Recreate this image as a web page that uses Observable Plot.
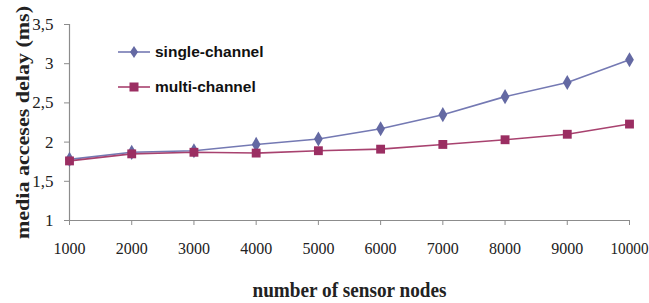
<!DOCTYPE html>
<html>
<head>
<meta charset="utf-8">
<script src="https://cdn.jsdelivr.net/npm/d3@7"></script>
<script src="https://cdn.jsdelivr.net/npm/@observablehq/plot@0.6"></script>
<style>
  html, body { margin: 0; padding: 0; background: #fff; }
  #wrap { position: relative; width: 649px; height: 303px; }
  .legend { position: absolute; left: 118px; height: 14px; font: bold 15.5px "Liberation Sans", Arial, sans-serif; color: #111; display: flex; align-items: center; white-space: nowrap; }
  .legend svg { margin-right: 5px; }
</style>
</head>
<body>
<div id="wrap"></div>
<script>
const nodes = [1000, 2000, 3000, 4000, 5000, 6000, 7000, 8000, 9000, 10000];
const singleChannel = [1.78, 1.87, 1.89, 1.97, 2.04, 2.17, 2.35, 2.58, 2.76, 3.05];
const multiChannel  = [1.76, 1.85, 1.87, 1.86, 1.89, 1.91, 1.97, 2.03, 2.10, 2.23];
const yTicks = [1, 1.5, 2, 2.5, 3, 3.5];
const seriesNames = ["single-channel", "multi-channel"];
const seriesColors = ["#6469a3", "#9b2e62"];
const lineColors = ["#7479b3", "#a8426f"];
const yTitle = "media acceses delay (ms)";
const xTitle = "number of sensor nodes";

const single = nodes.map((n, i) => ({n, v: singleChannel[i]}));
const multi = nodes.map((n, i) => ({n, v: multiChannel[i]}));

const serif = "'Liberation Serif', 'Times New Roman', serif";

const chart = Plot.plot({
  width: 649,
  height: 303,
  marginLeft: 69,
  marginRight: 20,
  marginTop: 24,
  marginBottom: 83,
  style: {fontFamily: serif, color: "#222", background: "white"},
  x: {domain: [nodes[0], nodes[nodes.length - 1]]},
  y: {domain: [yTicks[0], yTicks[yTicks.length - 1]]},
  marks: [
    Plot.ruleX([nodes[0]], {stroke: "#8c8c8c", strokeWidth: 1.2}),
    Plot.ruleY([yTicks[0]], {stroke: "#8c8c8c", strokeWidth: 1.2}),
    Plot.axisY({ticks: yTicks, tickSize: 5, tickPadding: 11, stroke: "#8c8c8c",
      tickFormat: d => String(d).replace(".", ","), fontSize: 17, label: null}),
    Plot.axisY({ticks: [], label: yTitle, labelAnchor: "center",
      labelArrow: "none", labelOffset: 54, fontSize: 19, fontWeight: "bold"}),
    Plot.axisX({ticks: nodes, tickSize: 5, tickPadding: 17, stroke: "#8c8c8c",
      tickFormat: d => String(d), fontSize: 16, label: null}),
    Plot.axisX({ticks: [], label: xTitle, labelAnchor: "center",
      labelArrow: "none", labelOffset: 76, fontSize: 20, fontWeight: "bold"}),
    Plot.line(single, {x: "n", y: "v", stroke: lineColors[0], strokeWidth: 1.6}),
    Plot.line(multi, {x: "n", y: "v", stroke: lineColors[1], strokeWidth: 1.6}),
    Plot.dot(single, {x: "n", y: "v", symbol: "diamond", r: 4.6, fill: seriesColors[0], stroke: "none"}),
    Plot.dot(multi, {x: "n", y: "v", symbol: "square", r: 5, fill: seriesColors[1], stroke: "none"})
  ]
});

// stretch the titles to the reference's text lengths
d3.select(chart).selectAll("text").each(function() {
  const t = this.textContent;
  if (t === yTitle) { this.setAttribute("textLength", 233); this.setAttribute("lengthAdjust", "spacingAndGlyphs"); }
  if (t === xTitle) { this.setAttribute("textLength", 194); this.setAttribute("lengthAdjust", "spacingAndGlyphs"); }
  if (t === String(nodes[nodes.length - 1])) { this.setAttribute("textLength", 38); this.setAttribute("lengthAdjust", "spacingAndGlyphs"); }
});

const wrap = document.getElementById("wrap");
wrap.appendChild(chart);

const legendTops = [45, 80];
const symbols = [
  '<path d="M16,1 L20,7 L16,13 L12,7 Z"/>',
  '<rect x="11.5" y="2.5" width="9" height="9"/>'
];
seriesNames.forEach((name, i) => {
  const div = document.createElement("div");
  div.className = "legend";
  div.style.top = legendTops[i] + "px";
  div.innerHTML = `<svg width="32" height="14"><line x1="0" x2="32" y1="7" y2="7" stroke="${lineColors[i]}" stroke-width="1.6"/><g fill="${seriesColors[i]}">${symbols[i]}</g></svg><span>${name}</span>`;
  wrap.appendChild(div);
});
</script>
</body>
</html>
